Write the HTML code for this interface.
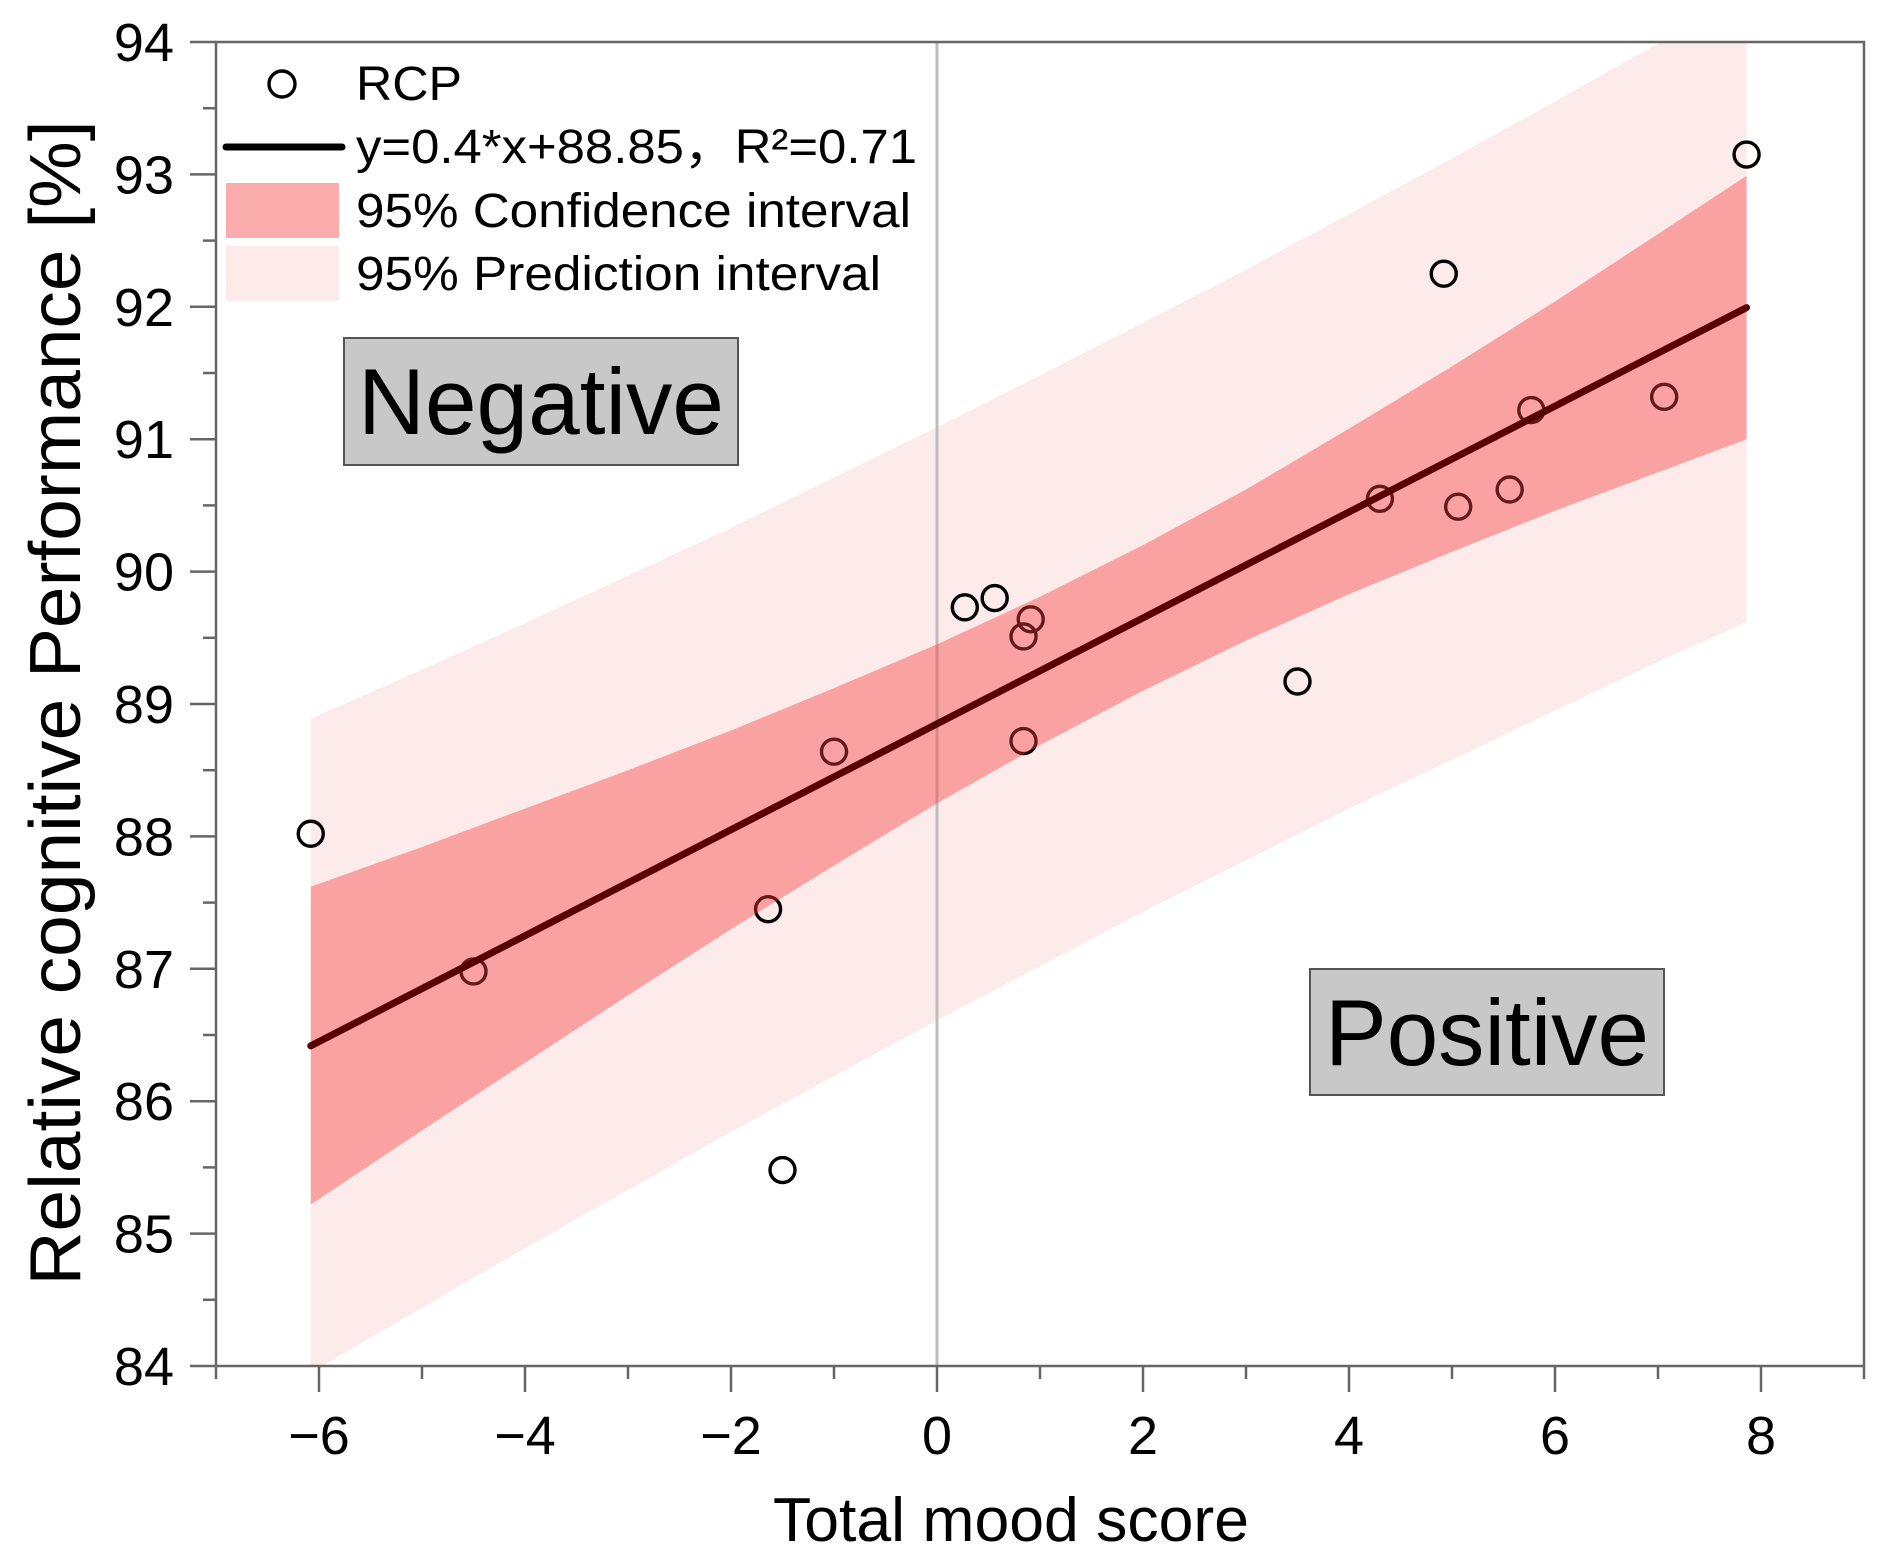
<!DOCTYPE html>
<html><head><meta charset="utf-8"><style>
html,body{margin:0;padding:0;background:#fff;}
svg{display:block;font-family:"Liberation Sans",Arial,sans-serif;}
</style></head><body>
<svg id="chart" width="1887" height="1568" viewBox="0 0 1887 1568" xmlns="http://www.w3.org/2000/svg">
</svg>
<script>
const pointX = [-6.08,-4.5,-1.64,-1.5,-1.0,0.27,0.56,0.84,0.91,0.84,3.5,4.3,4.92,5.06,5.56,5.77,7.06,7.86];
const pointY = [88.02,86.98,87.45,85.48,88.64,89.73,89.8,89.51,89.64,88.72,89.17,90.55,92.25,90.49,90.62,91.22,91.32,93.15];
const bandX = [-6.08,-5,-4,-3,-2,-1,0,1,2,3,4,5,6,7,7.86];
const fitY = [86.418,86.85,87.25,87.65,88.05,88.45,88.85,89.25,89.65,90.05,90.45,90.85,91.25,91.65,91.994];
const ciUpper = [87.62,87.92,88.21,88.50,88.80,89.12,89.45,89.81,90.20,90.62,91.08,91.55,92.04,92.55,92.99];
const ciLower = [85.22,85.78,86.29,86.80,87.30,87.78,88.25,88.69,89.10,89.48,89.83,90.15,90.46,90.75,91.00];
const piUpper = [88.89,89.26,89.61,89.97,90.33,90.71,91.09,91.48,91.88,92.28,92.70,93.12,93.55,93.99,94.37];
const piLower = [83.95,84.44,84.89,85.33,85.77,86.19,86.61,87.02,87.43,87.82,88.21,88.58,88.95,89.32,89.62];
const xTicks = [-6,-4,-2,0,2,4,6,8];
const xTickLabels = ["\u22126","\u22124","\u22122","0","2","4","6","8"];
const yTicks = [84,85,86,87,88,89,90,91,92,93,94];

const NS="http://www.w3.org/2000/svg";
const svg=document.getElementById('chart');
const L=216,R=1864,T=42,B=1366;
const X0=-7,X1=9,Y0=84,Y1=94;
const sx=v=>L+(v-X0)/(X1-X0)*(R-L);
const sy=v=>B-(v-Y0)/(Y1-Y0)*(B-T);
function mk(tag,attrs,parent){const e=document.createElementNS(NS,tag);for(const k in attrs)e.setAttribute(k,attrs[k]);(parent||svg).appendChild(e);return e;}

const defs=mk('defs',{});
const cp=mk('clipPath',{id:'plotclip'},defs);
mk('rect',{x:L,y:T,width:R-L,height:B-T},cp);
const plot=mk('g',{'clip-path':'url(#plotclip)'});



function bandPath(up,lo){
  let d='';
  bandX.forEach((x,i)=>{d+=(i?'L':'M')+sx(x)+','+sy(up[i]);});
  for(let i=bandX.length-1;i>=0;i--)d+='L'+sx(bandX[i])+','+sy(lo[i]);
  return d+'Z';
}
const pi=mk('path',{d:bandPath(piUpper,piLower),fill:'#fdeaea'},plot);



const zl=mk('line',{x1:sx(0),x2:sx(0),y1:T,y2:B,stroke:'#bdbdbd','stroke-width':3},plot);



pointX.forEach((x,i)=>{
  const c=mk('circle',{cx:sx(x),cy:sy(pointY[i]),r:12.5,fill:'none',stroke:'#000','stroke-width':3.4},plot);
  
  
});

const ci=mk('path',{d:bandPath(ciUpper,ciLower),fill:'rgb(245,60,60)','fill-opacity':0.42},plot);



let fd='';bandX.forEach((x,i)=>{fd+=(i?'L':'M')+sx(x)+','+sy(fitY[i]);});
const fit=mk('path',{d:fd,fill:'none',stroke:'#560000','stroke-width':7,'stroke-linecap':'round'},plot);



const fr=mk('rect',{x:L,y:T,width:R-L,height:B-T,fill:'none',stroke:'#666','stroke-width':2.5});



for(let v=X0;v<=X1;v++){
  const major=xTicks.includes(v);
  const t=mk('line',{x1:sx(v),x2:sx(v),y1:B,y2:B+(major?26:13),stroke:'#666','stroke-width':2.5});
  
  
}
xTicks.forEach((v,i)=>{
  const t=mk('text',{x:sx(v),y:1454,'text-anchor':'middle','font-size':54,fill:'#000'});
  t.textContent=xTickLabels[i];
  
  
});
for(let v=Y0;v<=Y1+0.001;v+=0.5){
  const major=Math.abs(v-Math.round(v))<0.01;
  const t=mk('line',{x1:L-(major?26:13),x2:L,y1:sy(v),y2:sy(v),stroke:'#666','stroke-width':2.5});
  
  
}
yTicks.forEach(v=>{
  const t=mk('text',{x:174,y:sy(v)+19,'text-anchor':'end','font-size':54,fill:'#000'});
  t.textContent=String(v);
  
  
});
</script>
<svg style="position:absolute;left:0;top:0" width="1887" height="1568" xmlns="http://www.w3.org/2000/svg" font-family="Liberation Sans, Arial, sans-serif">
  <text x="1011" y="1541" text-anchor="middle" font-size="62" textLength="476" lengthAdjust="spacingAndGlyphs">Total mood score</text>
  <text transform="translate(80,703) rotate(-90)" text-anchor="middle" font-size="72" textLength="1165" lengthAdjust="spacingAndGlyphs">Relative cognitive Performance [%]</text>
  <g>
    <circle cx="282" cy="84" r="13" fill="none" stroke="#000" stroke-width="3.4"/>
    <text x="356" y="100" font-size="48" textLength="106" lengthAdjust="spacingAndGlyphs">RCP</text>
    <line x1="226" y1="147" x2="342" y2="147" stroke="#000" stroke-width="7" stroke-linecap="round"/>
    <text x="356" y="163" font-size="48" textLength="561" lengthAdjust="spacingAndGlyphs">y=0.4*x+88.85，R²=0.71</text>
    <rect x="226" y="183" width="113" height="55" fill="#fbadad"/>
    <text x="356" y="227" font-size="48" textLength="555" lengthAdjust="spacingAndGlyphs">95% Confidence interval</text>
    <rect x="226" y="246" width="113" height="55" fill="#fdeaea"/>
    <text x="356" y="290" font-size="48" textLength="525" lengthAdjust="spacingAndGlyphs">95% Prediction interval</text>
  </g>
  <g>
    <rect x="344" y="338" width="394" height="127" fill="#c8c8c8" stroke="#555" stroke-width="2"/>
    <text x="541" y="434" text-anchor="middle" font-size="94" textLength="366" lengthAdjust="spacingAndGlyphs">Negative</text>
  </g>
  <g>
    <rect x="1310" y="969" width="354" height="126" fill="#c8c8c8" stroke="#555" stroke-width="2"/>
    <text x="1487" y="1065" text-anchor="middle" font-size="94" textLength="324" lengthAdjust="spacingAndGlyphs">Positive</text>
  </g>
</svg>
</body></html>
